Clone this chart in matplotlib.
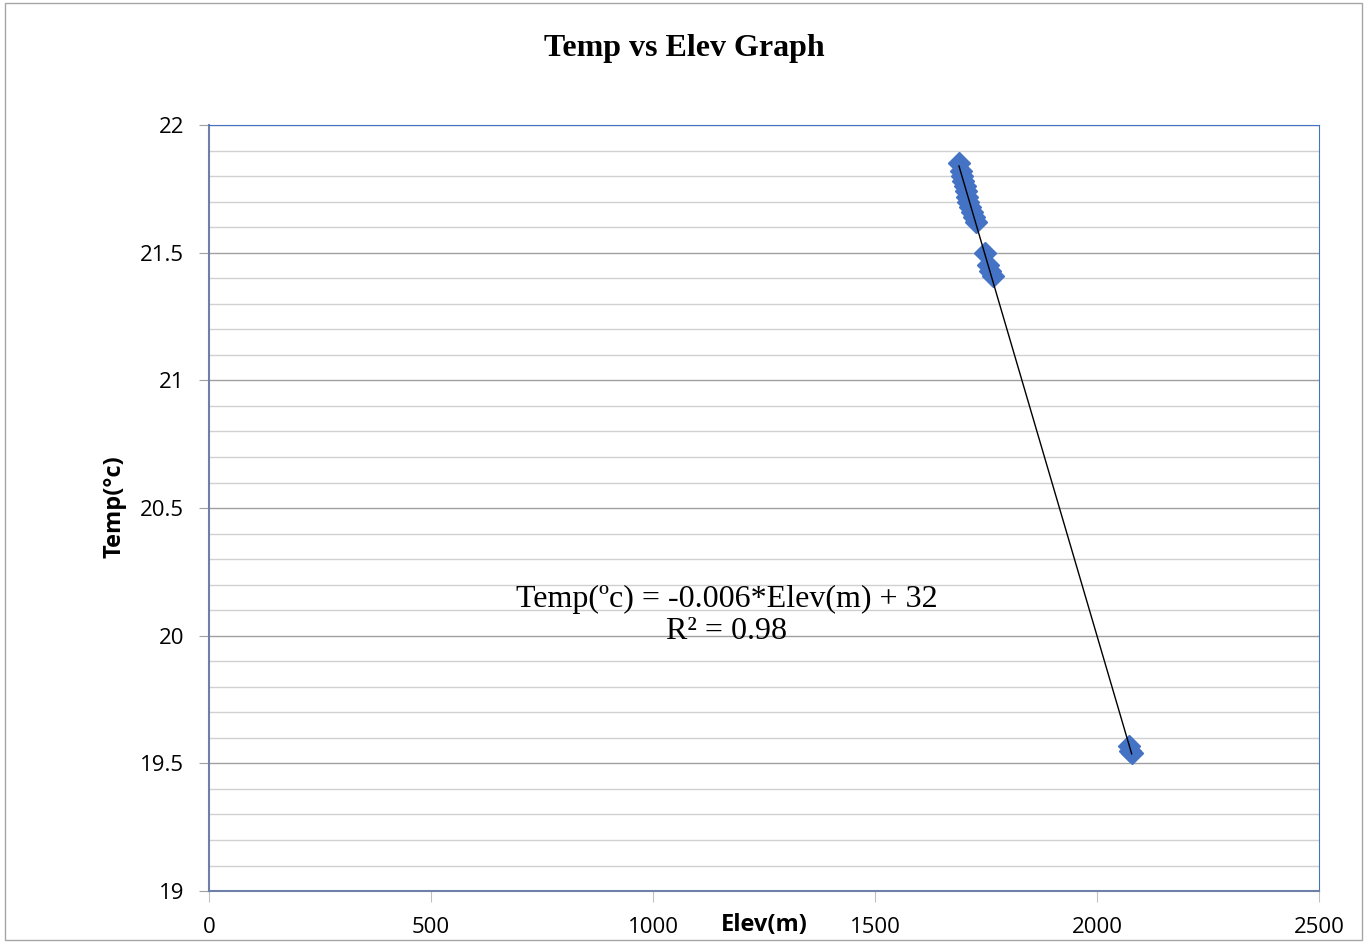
import numpy as np
import matplotlib.pyplot as plt
from matplotlib.patches import Rectangle
from matplotlib.ticker import MultipleLocator

# data
elev = [1689, 1693, 1696, 1699, 1703, 1705, 1707, 1710, 1713, 1718, 1722, 1727,
        1748, 1755, 1760, 1766, 2072, 2075, 2078]
temp = [21.85, 21.82, 21.80, 21.78, 21.76, 21.74, 21.72, 21.70, 21.68, 21.66, 21.64, 21.62,
        21.50, 21.45, 21.43, 21.41, 19.57, 19.55, 19.54]
x_ticks = [0, 500, 1000, 1500, 2000, 2500]
y_ticks = [19, 19.5, 20, 20.5, 21, 21.5, 22]

fig = plt.figure(figsize=(13.69, 9.43), dpi=100)
ax = fig.add_axes([0.1527, 0.0551, 0.8108, 0.8123])

# outer chart border
fig.patches.append(Rectangle((0.004, 0.003), 0.991, 0.994, transform=fig.transFigure,
                             fill=False, edgecolor="#a6a6a6", lw=1))

ax.set_xlim(0, 2500)
ax.set_ylim(19, 22)
ax.yaxis.set_major_locator(MultipleLocator(0.5))
ax.yaxis.set_minor_locator(MultipleLocator(0.1))
ax.xaxis.set_major_locator(MultipleLocator(500))
ax.grid(True, which="major", axis="y", color="#a0a0a0", lw=1)
ax.grid(True, which="minor", axis="y", color="#d0d0d0", lw=1)
ax.set_axisbelow(True)

for s in ["top", "right"]:
    ax.spines[s].set_color("#4472c4")
for s in ["left", "bottom"]:
    ax.spines[s].set_color("#6e7fa8")
    ax.spines[s].set_linewidth(1.5)

ax.tick_params(axis="y", which="major", direction="out", length=7, color="#a0a0a0",
               labelsize=16, pad=11)
ax.tick_params(axis="y", which="minor", length=0)
ax.tick_params(axis="x", which="major", direction="out", length=8, color="#c0c0c0",
               labelsize=16, pad=11)
ax.set_xticks(x_ticks)
ax.set_yticks(y_ticks)
ax.set_yticklabels([f"{v:g}" for v in y_ticks], family="Open Sans")
ax.set_xticklabels([str(v) for v in x_ticks], family="Open Sans")

# linear trend line over the data range
k, b = np.polyfit(elev, temp, 1)
xs = np.array([min(elev), max(elev)])
ax.plot(xs, k * xs + b, color="black", lw=1, zorder=4)
ax.plot(elev, temp, ls="none", marker="D", ms=11, color="#4472c4", zorder=3)

ax.text(1166, 20.08, "Temp(ºc) = -0.006*Elev(m) + 32\nR² = 0.98",
        ha="center", va="center", family="Liberation Serif", fontsize=23, linespacing=1.15)

fig.text(0.5, 0.949, "Temp vs Elev Graph", ha="center", va="center",
         family="Liberation Serif", fontweight="bold", fontsize=23)
fig.text(0.084, 0.463, "Temp(°c)", rotation=90, ha="center", va="center",
         family="Open Sans", fontweight="bold", fontsize=17)
fig.text(0.558, 0.019, "Elev(m)", ha="center", va="center",
         family="Open Sans", fontweight="bold", fontsize=17)

fig.savefig("out.png", dpi=100)
